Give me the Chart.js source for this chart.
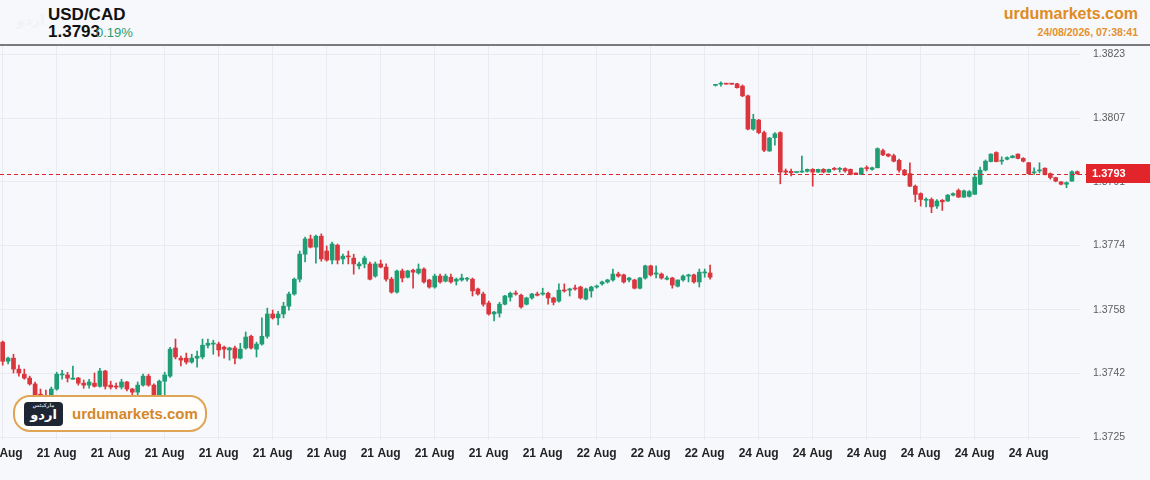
<!DOCTYPE html>
<html>
<head>
<meta charset="utf-8">
<script src="https://cdn.jsdelivr.net/npm/chart.js@4.4.1/dist/chart.umd.min.js"></script>
<style>
  body { margin: 0; background: #f7f8fc; font-family: "Liberation Sans", Arial, sans-serif; }
  #wrap { position: relative; width: 1150px; height: 480px; overflow: hidden; background: #f7f8fc; }
  .t { position: absolute; white-space: nowrap; }
  #sym { left: 48px; top: 6px; font-size: 17px; line-height: 17px; font-weight: bold; color: #111; }
  #px { left: 48px; top: 23px; font-size: 17px; line-height: 17px; font-weight: bold; color: #111; }
  #chg { left: 96px; top: 26px; font-size: 13px; line-height: 13px; color: #2a9d6c; }
  #logoTop { left: 16px; top: 12px; font-family: "DejaVu Sans"; font-size: 14px; font-weight: bold; color: #f1f2f6; }
  #site { right: 12px; top: 6px; font-size: 16px; line-height: 16px; font-weight: bold; color: #e08b22; }
  #time { right: 12px; top: 27px; font-size: 10.5px; line-height: 11px; font-weight: bold; color: #e3912c; }
  #rule { position: absolute; left: 0; top: 44px; width: 1150px; height: 2px; background: #7a7a7a; }
  #chartBox { position: absolute; left: 0; top: 46px; width: 1150px; height: 434px; }
  #mark { position: absolute; left: 13px; top: 395px; width: 190px; height: 33px; border: 2px solid #e0a455;
          border-radius: 17px; background: #fffefb; }
  #chip { position: absolute; left: 9px; top: 5px; width: 39px; height: 24px; border-radius: 4px; background: #1e2533;
          color: #fff; font-family: "DejaVu Sans"; font-weight: bold; font-size: 13px; line-height: 26px; text-align: center; }
  #chipTop { position: absolute; left: 0; top: 1px; width: 39px; font-size: 5px; line-height: 5px; text-align: center; color: #cfd3da; font-family: "DejaVu Sans"; }
  #markTxt { position: absolute; left: 57px; top: 9px; font-size: 15px; line-height: 15px; font-weight: bold; color: #d4882a; }
</style>
</head>
<body>
<div id="wrap">
  <div class="t" id="logoTop">اردو</div>
  <div class="t" id="sym">USD/CAD</div>
  <div class="t" id="px">1.3793</div>
  <div class="t" id="chg">0.19%</div>
  <div class="t" id="site">urdumarkets.com</div>
  <div class="t" id="time">24/08/2026, 07:38:41</div>
  <div id="rule"></div>
  <div id="chartBox"><canvas id="c" width="1150" height="434"></canvas></div>
  <div id="mark"><div id="chip"><div id="chipTop">مارکیٹس</div>اردو</div><div class="t" id="markTxt">urdumarkets.com</div></div>
</div>
<script>
// one tick label every 10 candles
const tickLabels = ["21 Aug", "21 Aug", "21 Aug", "21 Aug", "21 Aug", "21 Aug", "21 Aug", "21 Aug", "21 Aug", "21 Aug",
  "21 Aug", "22 Aug", "22 Aug", "22 Aug", "24 Aug", "24 Aug", "24 Aug", "24 Aug", "24 Aug", "24 Aug"];
const yTicks = [1.37254, 1.37417, 1.37580, 1.37744, 1.37907, 1.38070, 1.38234];
const lastPrice = 1.37928;

const opens = [
  1.37497, 1.37448, 1.37456, 1.37428, 1.37415, 1.37405, 1.37390, 1.37364, 1.37359, 1.37356,
  1.37377, 1.37413, 1.37413, 1.37402, 1.37405, 1.37392, 1.37387, 1.37392, 1.37384, 1.37423,
  1.37387, 1.37384, 1.37382, 1.37395, 1.37377, 1.37369, 1.37387, 1.37410, 1.37387, 1.37356,
  1.37397, 1.37410, 1.37482, 1.37456, 1.37456, 1.37446, 1.37456, 1.37459, 1.37489, 1.37492,
  1.37492, 1.37484, 1.37477, 1.37482, 1.37456, 1.37482, 1.37512, 1.37479, 1.37492, 1.37512,
  1.37569, 1.37559, 1.37569, 1.37589, 1.37620, 1.37658, 1.37722, 1.37761, 1.37740, 1.37768,
  1.37730, 1.37707, 1.37745, 1.37710, 1.37717, 1.37712, 1.37692, 1.37697, 1.37697, 1.37666,
  1.37697, 1.37689, 1.37658, 1.37625, 1.37679, 1.37663, 1.37681, 1.37674, 1.37684, 1.37656,
  1.37638, 1.37666, 1.37653, 1.37663, 1.37653, 1.37656, 1.37658, 1.37658, 1.37633, 1.37620,
  1.37597, 1.37569, 1.37571, 1.37594, 1.37612, 1.37622, 1.37617, 1.37594, 1.37610, 1.37620,
  1.37620, 1.37622, 1.37610, 1.37602, 1.37630, 1.37630, 1.37635, 1.37638, 1.37607, 1.37628,
  1.37638, 1.37646, 1.37651, 1.37656, 1.37671, 1.37669, 1.37656, 1.37656, 1.37635, 1.37661,
  1.37692, 1.37671, 1.37671, 1.37658, 1.37661, 1.37640, 1.37656, 1.37666, 1.37669, 1.37651,
  1.37674, 1.37674, 1.38154, 1.38157, 1.38158, 1.38158, 1.38158, 1.38152, 1.38127, 1.38042,
  1.38065, 1.38033, 1.37986, 1.38020, 1.38033, 1.37935, 1.37934, 1.37931, 1.37932, 1.37934,
  1.37939, 1.37932, 1.37939, 1.37932, 1.37941, 1.37939, 1.37941, 1.37939, 1.37928, 1.37926,
  1.37943, 1.37939, 1.37943, 1.37987, 1.37978, 1.37974, 1.37962, 1.37937, 1.37928, 1.37896,
  1.37877, 1.37860, 1.37862, 1.37845, 1.37860, 1.37858, 1.37873, 1.37885, 1.37868, 1.37870,
  1.37875, 1.37901, 1.37937, 1.37959, 1.37982, 1.37960, 1.37965, 1.37969, 1.37978, 1.37967,
  1.37956, 1.37930, 1.37935, 1.37942, 1.37928, 1.37918, 1.37907, 1.37901, 1.37909, 1.37933
];
const highs = [
  1.37500, 1.37459, 1.37466, 1.37438, 1.37428, 1.37410, 1.37395, 1.37377, 1.37374, 1.37382,
  1.37420, 1.37425, 1.37420, 1.37436, 1.37407, 1.37400, 1.37402, 1.37418, 1.37430, 1.37425,
  1.37397, 1.37392, 1.37402, 1.37397, 1.37379, 1.37395, 1.37415, 1.37415, 1.37390, 1.37400,
  1.37420, 1.37484, 1.37505, 1.37461, 1.37469, 1.37466, 1.37474, 1.37505, 1.37505, 1.37502,
  1.37497, 1.37487, 1.37484, 1.37487, 1.37494, 1.37523, 1.37515, 1.37497, 1.37559, 1.37584,
  1.37579, 1.37576, 1.37599, 1.37625, 1.37661, 1.37730, 1.37766, 1.37771, 1.37771, 1.37774,
  1.37743, 1.37753, 1.37748, 1.37722, 1.37730, 1.37722, 1.37702, 1.37717, 1.37702, 1.37702,
  1.37707, 1.37697, 1.37663, 1.37681, 1.37684, 1.37681, 1.37684, 1.37697, 1.37687, 1.37658,
  1.37671, 1.37671, 1.37671, 1.37671, 1.37661, 1.37671, 1.37663, 1.37661, 1.37635, 1.37625,
  1.37602, 1.37576, 1.37599, 1.37617, 1.37625, 1.37628, 1.37620, 1.37612, 1.37622, 1.37625,
  1.37635, 1.37625, 1.37612, 1.37646, 1.37646, 1.37635, 1.37643, 1.37640, 1.37635, 1.37640,
  1.37643, 1.37653, 1.37658, 1.37684, 1.37676, 1.37671, 1.37663, 1.37658, 1.37663, 1.37694,
  1.37694, 1.37692, 1.37674, 1.37666, 1.37663, 1.37656, 1.37669, 1.37671, 1.37671, 1.37684,
  1.37684, 1.37694, 1.38155, 1.38163, 1.38159, 1.38159, 1.38159, 1.38155, 1.38129, 1.38080,
  1.38067, 1.38037, 1.38021, 1.38033, 1.38035, 1.37940, 1.37940, 1.37932, 1.37973, 1.37940,
  1.37941, 1.37940, 1.37941, 1.37940, 1.37944, 1.37944, 1.37943, 1.37940, 1.37930, 1.37943,
  1.37948, 1.37945, 1.37994, 1.37991, 1.37979, 1.37978, 1.37965, 1.37939, 1.37956, 1.37899,
  1.37879, 1.37866, 1.37866, 1.37862, 1.37862, 1.37875, 1.37879, 1.37889, 1.37886, 1.37885,
  1.37928, 1.37945, 1.37963, 1.37979, 1.37984, 1.37971, 1.37971, 1.37975, 1.37979, 1.37969,
  1.37957, 1.37943, 1.37956, 1.37943, 1.37930, 1.37919, 1.37908, 1.37907, 1.37935, 1.37935
];
const lows = [
  1.37438, 1.37441, 1.37418, 1.37410, 1.37402, 1.37387, 1.37351, 1.37351, 1.37351, 1.37351,
  1.37374, 1.37402, 1.37395, 1.37402, 1.37387, 1.37379, 1.37379, 1.37382, 1.37382, 1.37377,
  1.37377, 1.37377, 1.37377, 1.37372, 1.37356, 1.37356, 1.37384, 1.37384, 1.37351, 1.37354,
  1.37359, 1.37407, 1.37454, 1.37436, 1.37441, 1.37443, 1.37433, 1.37454, 1.37482, 1.37466,
  1.37461, 1.37456, 1.37451, 1.37441, 1.37454, 1.37479, 1.37479, 1.37459, 1.37489, 1.37507,
  1.37556, 1.37541, 1.37559, 1.37579, 1.37617, 1.37651, 1.37702, 1.37738, 1.37699, 1.37704,
  1.37704, 1.37697, 1.37697, 1.37697, 1.37697, 1.37671, 1.37684, 1.37687, 1.37656, 1.37663,
  1.37687, 1.37653, 1.37622, 1.37622, 1.37651, 1.37661, 1.37635, 1.37671, 1.37648, 1.37635,
  1.37635, 1.37648, 1.37651, 1.37648, 1.37643, 1.37653, 1.37653, 1.37615, 1.37617, 1.37589,
  1.37566, 1.37551, 1.37561, 1.37592, 1.37602, 1.37617, 1.37584, 1.37592, 1.37607, 1.37615,
  1.37617, 1.37594, 1.37592, 1.37599, 1.37625, 1.37615, 1.37630, 1.37607, 1.37605, 1.37612,
  1.37635, 1.37643, 1.37648, 1.37653, 1.37663, 1.37648, 1.37651, 1.37633, 1.37633, 1.37658,
  1.37666, 1.37661, 1.37658, 1.37656, 1.37635, 1.37638, 1.37653, 1.37651, 1.37648, 1.37638,
  1.37663, 1.37658, 1.38152, 1.38152, 1.38157, 1.38156, 1.38147, 1.38125, 1.38040, 1.38039,
  1.38030, 1.37984, 1.37985, 1.38001, 1.37902, 1.37927, 1.37922, 1.37930, 1.37931, 1.37932,
  1.37896, 1.37931, 1.37930, 1.37931, 1.37937, 1.37932, 1.37932, 1.37925, 1.37926, 1.37926,
  1.37935, 1.37937, 1.37943, 1.37974, 1.37971, 1.37958, 1.37932, 1.37923, 1.37895, 1.37856,
  1.37845, 1.37843, 1.37828, 1.37839, 1.37834, 1.37857, 1.37871, 1.37867, 1.37867, 1.37868,
  1.37875, 1.37900, 1.37935, 1.37958, 1.37958, 1.37952, 1.37963, 1.37968, 1.37966, 1.37958,
  1.37926, 1.37926, 1.37930, 1.37925, 1.37914, 1.37907, 1.37899, 1.37892, 1.37908, 1.37926
];
const closes = [
  1.37448, 1.37456, 1.37428, 1.37418, 1.37405, 1.37390, 1.37356, 1.37359, 1.37356, 1.37377,
  1.37415, 1.37415, 1.37405, 1.37405, 1.37392, 1.37387, 1.37395, 1.37384, 1.37423, 1.37384,
  1.37382, 1.37382, 1.37395, 1.37377, 1.37369, 1.37387, 1.37410, 1.37387, 1.37356, 1.37397,
  1.37413, 1.37479, 1.37459, 1.37451, 1.37446, 1.37456, 1.37461, 1.37489, 1.37494, 1.37494,
  1.37477, 1.37479, 1.37482, 1.37456, 1.37479, 1.37510, 1.37482, 1.37492, 1.37512, 1.37569,
  1.37559, 1.37569, 1.37589, 1.37620, 1.37658, 1.37722, 1.37761, 1.37740, 1.37768, 1.37710,
  1.37707, 1.37748, 1.37707, 1.37717, 1.37715, 1.37697, 1.37697, 1.37712, 1.37658, 1.37697,
  1.37689, 1.37658, 1.37625, 1.37679, 1.37661, 1.37679, 1.37676, 1.37684, 1.37651, 1.37638,
  1.37666, 1.37651, 1.37666, 1.37651, 1.37658, 1.37661, 1.37660, 1.37628, 1.37620, 1.37594,
  1.37569, 1.37574, 1.37594, 1.37615, 1.37622, 1.37620, 1.37587, 1.37610, 1.37620, 1.37617,
  1.37622, 1.37610, 1.37599, 1.37630, 1.37628, 1.37633, 1.37633, 1.37610, 1.37633, 1.37638,
  1.37640, 1.37651, 1.37656, 1.37671, 1.37666, 1.37651, 1.37661, 1.37635, 1.37661, 1.37692,
  1.37669, 1.37674, 1.37661, 1.37661, 1.37643, 1.37656, 1.37666, 1.37669, 1.37651, 1.37676,
  1.37675, 1.37663, 1.38155, 1.38158, 1.38157, 1.38157, 1.38148, 1.38127, 1.38042, 1.38067,
  1.38033, 1.37988, 1.38019, 1.38030, 1.37932, 1.37932, 1.37930, 1.37932, 1.37934, 1.37939,
  1.37932, 1.37939, 1.37932, 1.37939, 1.37939, 1.37941, 1.37935, 1.37926, 1.37927, 1.37942,
  1.37941, 1.37943, 1.37992, 1.37976, 1.37973, 1.37960, 1.37937, 1.37925, 1.37896, 1.37875,
  1.37862, 1.37862, 1.37843, 1.37858, 1.37856, 1.37873, 1.37877, 1.37868, 1.37884, 1.37882,
  1.37919, 1.37937, 1.37960, 1.37978, 1.37959, 1.37962, 1.37969, 1.37973, 1.37967, 1.37960,
  1.37928, 1.37932, 1.37937, 1.37926, 1.37918, 1.37909, 1.37901, 1.37905, 1.37933, 1.37928
];

const upColor = '#1f9e74';
const downColor = '#d9363e';
const candleColors = closes.map((c, i) => (c >= opens[i] ? upColor : downColor));
const labels = opens.map((_, i) => (i % 10 === 0 ? tickLabels[i / 10] : ''));

// dashed last-price line and the red price tag on the axis
const priceTag = {
  id: 'priceTag',
  afterDatasetsDraw(chart) {
    const { ctx, chartArea } = chart;
    const y = Math.round(chart.scales.y.getPixelForValue(lastPrice)) + 0.5;
    ctx.save();
    ctx.strokeStyle = '#e0262d';
    ctx.lineWidth = 1.2;
    ctx.setLineDash([4, 3]);
    ctx.beginPath();
    ctx.moveTo(chartArea.left, y);
    ctx.lineTo(chartArea.right + 6, y);
    ctx.stroke();
    ctx.restore();
  },
  afterDraw(chart) {
    const { ctx, chartArea } = chart;
    const y = chart.scales.y.getPixelForValue(lastPrice);
    ctx.save();
    ctx.fillStyle = '#e1252b';
    ctx.fillRect(chartArea.right + 6, Math.round(y - 9.5), 70, 19);
    ctx.fillStyle = '#fff';
    ctx.font = 'bold 11px "Liberation Sans", Arial, sans-serif';
    ctx.textBaseline = 'middle';
    ctx.fillText(lastPrice.toFixed(4), chartArea.right + 12, y + 0.5);
    ctx.restore();
  }
};

new Chart(document.getElementById('c'), {
  type: 'bar',
  data: {
    labels: labels,
    datasets: [
      {
        data: lows.map((l, i) => [l, highs[i]]),
        backgroundColor: candleColors,
        barThickness: 1,
        grouped: false,
        order: 2
      },
      {
        data: opens.map((o, i) => [o, closes[i]]),
        backgroundColor: candleColors,
        barThickness: 4,
        minBarLength: 1,
        grouped: false,
        order: 1
      }
    ]
  },
  options: {
    responsive: false,
    animation: false,
    layout: { padding: 0 },
    plugins: { legend: { display: false }, tooltip: { enabled: false } },
    scales: {
      x: {
        offset: true,
        grid: { offset: false, color: '#e8ebf1', drawTicks: false },
        border: { display: false },
        ticks: {
          autoSkip: false,
          maxRotation: 0,
          padding: 6,
          color: '#222',
          font: { family: '"Liberation Sans", Arial, sans-serif', size: 12, weight: 'bold' }
        },
        afterBuildTicks: (s) => { s.ticks = s.ticks.filter((t) => labels[t.value] !== ''); },
        afterFit: (s) => { s.height = 40; s.paddingLeft = 0; s.paddingRight = 0; }
      },
      y: {
        position: 'right',
        min: 1.372466,
        max: 1.382546,
        grid: { color: '#e8ebf1', drawTicks: false },
        border: { display: false },
        ticks: {
          padding: 13,
          color: '#5e5e5e',
          font: { family: '"Liberation Sans", Arial, sans-serif', size: 10.5 },
          callback: (v) => Number(v).toFixed(4)
        },
        afterBuildTicks: (s) => { s.ticks = yTicks.map((v) => ({ value: v })); },
        afterFit: (s) => { s.width = 70; s.paddingTop = 0; s.paddingBottom = 0; }
      }
    }
  },
  plugins: [priceTag]
});
</script>
</body>
</html>
